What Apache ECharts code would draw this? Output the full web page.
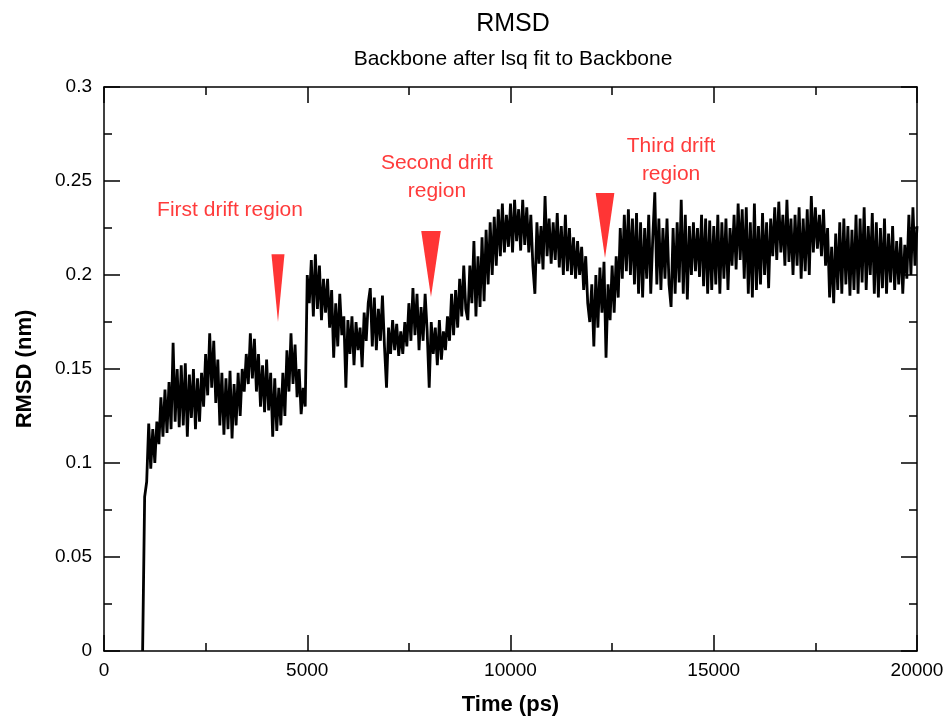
<!DOCTYPE html>
<html><head><meta charset="utf-8">
<script src="https://cdn.jsdelivr.net/npm/echarts@6/dist/echarts.min.js"></script>
<style>html,body{margin:0;padding:0;background:#fff}#c{width:951px;height:717px}</style>
</head><body><div id="c"></div>
<script>
// Sampling of the trajectory (ps)
const tStart = 950, tStep = 50;
// RMSD values (nm), one per sample
const rmsd = [
0.000,0.082,0.090,0.121,0.097,0.118,0.100,0.122,0.110,0.135,
0.114,0.139,0.116,0.143,0.118,0.164,0.122,0.150,0.119,0.152,
0.120,0.153,0.114,0.147,0.124,0.150,0.118,0.145,0.122,0.148,
0.130,0.158,0.136,0.169,0.140,0.165,0.132,0.155,0.120,0.148,
0.115,0.145,0.118,0.149,0.113,0.142,0.120,0.148,0.125,0.150,
0.138,0.158,0.142,0.169,0.145,0.166,0.138,0.158,0.130,0.152,
0.127,0.155,0.128,0.148,0.114,0.145,0.117,0.140,0.120,0.148,
0.125,0.160,0.138,0.169,0.142,0.163,0.135,0.150,0.126,0.140,
0.130,0.200,0.185,0.208,0.178,0.211,0.182,0.205,0.176,0.198,
0.180,0.198,0.172,0.192,0.156,0.185,0.162,0.190,0.168,0.178,
0.140,0.176,0.158,0.178,0.152,0.175,0.160,0.172,0.151,0.180,
0.165,0.185,0.193,0.162,0.188,0.160,0.182,0.165,0.189,0.162,
0.140,0.172,0.158,0.176,0.160,0.174,0.157,0.170,0.158,0.175,
0.162,0.185,0.165,0.193,0.168,0.190,0.160,0.183,0.165,0.190,
0.170,0.140,0.175,0.158,0.172,0.152,0.176,0.155,0.170,0.160,
0.178,0.165,0.190,0.168,0.192,0.172,0.198,0.178,0.205,0.182,
0.176,0.205,0.185,0.218,0.178,0.210,0.183,0.220,0.186,0.224,
0.195,0.228,0.200,0.231,0.205,0.235,0.210,0.238,0.212,0.232,
0.215,0.238,0.212,0.240,0.218,0.235,0.213,0.240,0.216,0.236,
0.212,0.232,0.205,0.190,0.228,0.206,0.226,0.203,0.242,0.210,
0.230,0.206,0.228,0.208,0.233,0.204,0.226,0.200,0.232,0.202,
0.225,0.200,0.220,0.198,0.218,0.200,0.215,0.192,0.210,0.185,
0.175,0.195,0.162,0.200,0.172,0.204,0.180,0.207,0.156,0.195,
0.176,0.205,0.180,0.210,0.188,0.225,0.198,0.232,0.202,0.235,
0.200,0.230,0.195,0.233,0.190,0.228,0.188,0.225,0.198,0.232,
0.190,0.220,0.244,0.195,0.230,0.192,0.225,0.198,0.230,0.195,
0.183,0.225,0.190,0.228,0.196,0.240,0.190,0.232,0.187,0.226,
0.200,0.228,0.202,0.225,0.199,0.232,0.194,0.230,0.190,0.229,
0.192,0.226,0.195,0.232,0.190,0.228,0.198,0.230,0.192,0.225,
0.205,0.232,0.203,0.238,0.208,0.235,0.198,0.236,0.190,0.228,
0.188,0.238,0.192,0.226,0.195,0.233,0.200,0.228,0.193,0.230,
0.210,0.236,0.208,0.239,0.212,0.232,0.205,0.240,0.207,0.230,
0.200,0.232,0.205,0.236,0.198,0.230,0.202,0.235,0.200,0.242,
0.212,0.236,0.214,0.232,0.210,0.235,0.205,0.225,0.188,0.215,
0.185,0.222,0.192,0.228,0.190,0.230,0.195,0.226,0.189,0.224,
0.192,0.232,0.190,0.230,0.196,0.236,0.192,0.226,0.200,0.233,
0.190,0.228,0.188,0.225,0.193,0.230,0.190,0.222,0.196,0.226,
0.192,0.218,0.195,0.220,0.190,0.216,0.198,0.232,0.200,0.236,
0.205,0.226
];
const xTicks = [0, 5000, 10000, 15000, 20000];
const yTicks = [0, 0.05, 0.1, 0.15, 0.2, 0.25, 0.3];
// Annotations in data coordinates
const arrowTips = [[4280, 0.175], [8044, 0.1883], [12325, 0.209]];
const arrowTops = [0.211, 0.2234, 0.2436];
const arrowHalfWidths = [160, 240, 230];
const labels = [
  {text: 'First drift region', at: [3100, 0.2343]},
  {text: 'Second drift\nregion', at: [8190, 0.2522]},
  {text: 'Third drift\nregion', at: [13950, 0.2612]}
];

const data = rmsd.map((v, i) => [tStart + i * tStep, v]);
const font = 'Liberation Sans, Arial, Helvetica, sans-serif';
const chart = echarts.init(document.getElementById('c'), null, {renderer: 'canvas'});
function axisBase(pos, show) {
  return {
    position: pos,
    axisLine: {show: true, onZero: false, lineStyle: {color: '#000', width: 1.5}},
    axisTick: {show: true, inside: true, length: 16, lineStyle: {color: '#000', width: 1.5}},
    minorTick: {show: true, splitNumber: 2, length: 8, lineStyle: {color: '#000', width: 1.5}},
    splitLine: {show: false},
    axisLabel: {show: show, color: '#000', fontSize: 19, fontFamily: font}
  };
}
const option = {
  animation: false,
  backgroundColor: '#fff',
  title: {
    text: 'RMSD', subtext: 'Backbone after lsq fit to Backbone',
    left: 508, textAlign: 'center', top: 7, itemGap: 12,
    textStyle: {fontSize: 25, fontWeight: 'normal', color: '#000', fontFamily: font},
    subtextStyle: {fontSize: 21, color: '#000', fontFamily: font}
  },
  grid: {left: 104, right: 34, top: 87, bottom: 66, containLabel: false, outerBoundsMode: 'none'},
  xAxis: [
    Object.assign(axisBase('bottom', true), {type: 'value', min: 0, max: 20000, interval: 5000,
      name: 'Time (ps)', nameLocation: 'middle', nameGap: 43,
      nameTextStyle: {fontSize: 22, fontWeight: 'bold', color: '#000', fontFamily: font},
      axisLabel: {show: true, color: '#000', fontSize: 19, fontFamily: font, margin: 10,
        formatter: v => String(v)}}),
    Object.assign(axisBase('top', false), {type: 'value', min: 0, max: 20000, interval: 5000})
  ],
  yAxis: [
    Object.assign(axisBase('left', true), {type: 'value', min: 0, max: 0.3, interval: 0.05,
      name: 'RMSD (nm)', nameLocation: 'middle', nameGap: 68, nameRotate: 90,
      nameTextStyle: {fontSize: 22, fontWeight: 'bold', color: '#000', fontFamily: font},
      axisLabel: {show: true, color: '#000', fontSize: 19, fontFamily: font, margin: 12,
        formatter: v => String(+v.toFixed(3))}}),
    Object.assign(axisBase('right', false), {type: 'value', min: 0, max: 0.3, interval: 0.05})
  ],
  series: [{
    type: 'line', data: data, xAxisIndex: 0, yAxisIndex: 0,
    showSymbol: false, symbol: 'none',
    lineStyle: {color: '#000', width: 2.8, join: 'miter', miterLimit: 2}, z: 3
  }]
};
chart.setOption(option);

const graphics = [];
arrowTips.forEach((tip, i) => {
  const p = chart.convertToPixel({xAxisIndex: 0, yAxisIndex: 0}, tip);
  const l = chart.convertToPixel({xAxisIndex: 0, yAxisIndex: 0}, [tip[0] - arrowHalfWidths[i], arrowTops[i]]);
  const r = chart.convertToPixel({xAxisIndex: 0, yAxisIndex: 0}, [tip[0] + arrowHalfWidths[i], arrowTops[i]]);
  graphics.push({type: 'polygon', shape: {points: [l, r, p]}, style: {fill: '#ff3535'}, z: 10});
});
labels.forEach(lb => {
  const p = chart.convertToPixel({xAxisIndex: 0, yAxisIndex: 0}, lb.at);
  graphics.push({type: 'text', x: p[0], y: p[1], z: 10,
    style: {text: lb.text, fill: '#ff3b3b', font: '21px ' + font, align: 'center', verticalAlign: 'middle', lineHeight: 28}});
});
chart.setOption({graphic: graphics});
</script></body></html>
